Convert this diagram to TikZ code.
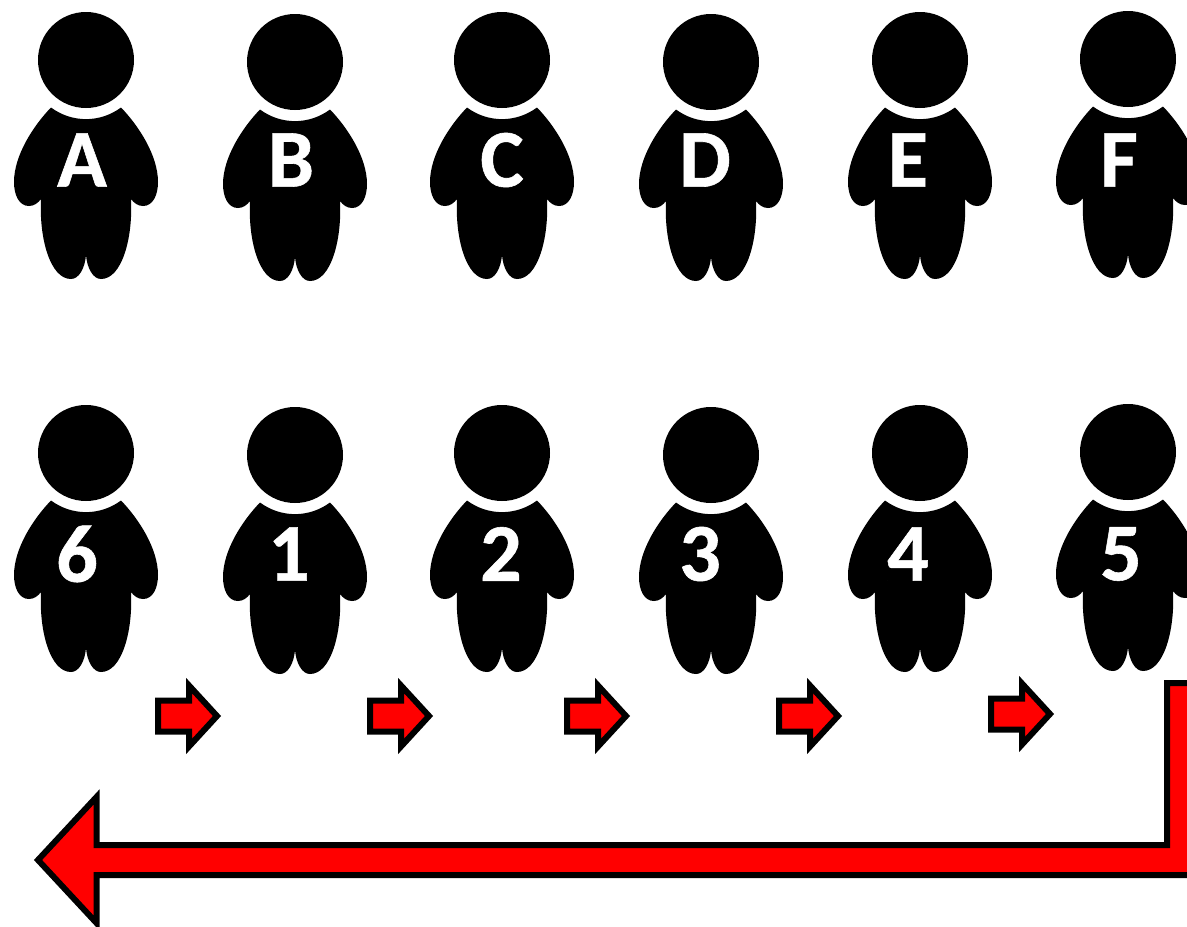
\documentclass[tikz,border=0pt]{standalone}
\usepackage{fontspec}
\setmainfont[Numbers=Lining,BoldFeatures={FakeBold=0.7}]{Carlito}
\tikzset{person/.pic={
    \fill[black] (0,0) circle [radius=48pt];
    \fill[black] (-35,47.5) .. controls (-14,63) and (14,63) .. (35,47.5)
        .. controls (52,65) and (72,95) .. (72,122)
        .. controls (72,135) and (67,146) .. (57,146)
        .. controls (52,146) and (48,143) .. (45,139)
        .. controls (47,178) and (36,219) .. (15,219)
        .. controls (7,219) and (1,208) .. (0,195)
        .. controls (-1,208) and (-7,219) .. (-15,219)
        .. controls (-36,219) and (-47,178) .. (-45,139)
        .. controls (-48,143) and (-52,146) .. (-57,146)
        .. controls (-67,146) and (-72,135) .. (-72,122)
        .. controls (-72,95) and (-52,65) .. (-35,47.5) -- cycle;
    },
    tag/.style={text=white,font=\fontsize{82}{82}\selectfont\bfseries,inner sep=0pt,anchor=center},
    block/.style={draw=black,fill=red,line width=6pt,miter limit=10}}
\begin{document}
\begin{tikzpicture}[x=1pt,y=-1pt]
    \useasboundingbox (0,0) rectangle (1187,927);
    \clip (0,0) rectangle (1187,927);
    % top row
    \foreach \hx/\hy/\lx/\name in {86/60/82/A,295/62/291/B,502/60/502/C,711/62/705/D,920/60/908/E,1128/59/1119/F}
    {
        \pic at (\hx,\hy) {person};
        \node[tag] (top-\name) at (\lx,160) {\name};
    }
    % bottom row
    \foreach \hx/\hy/\lx/\name in {86/453/77/6,295/455/289/1,502/453/501/2,711/455/700/3,920/453/908/4,1128/452/1121/5}
    {
        \pic at (\hx,\hy) {person};
        \node[tag] (low-\name) at (\lx,554) {\name};
    }
    % small arrows
    \foreach \ax/\ay in {158/716,370/716,567/716,779/716,991/714}
    {
        \draw[block] (\ax,\ay-15.5) -- ++(31,0) -- ++(0,-15) -- ++(28,30.5) -- ++(-28,30.5) -- ++(0,-15) -- ++(-31,0) -- cycle;
    }
    % long return arrow
    \draw[block] (1200,683) -- (1167,683) -- (1167,845) -- (96.5,845) -- (96.5,797) -- (38,860) -- (96.5,923) -- (96.5,875) -- (1200,875);
\end{tikzpicture}
\end{document}
